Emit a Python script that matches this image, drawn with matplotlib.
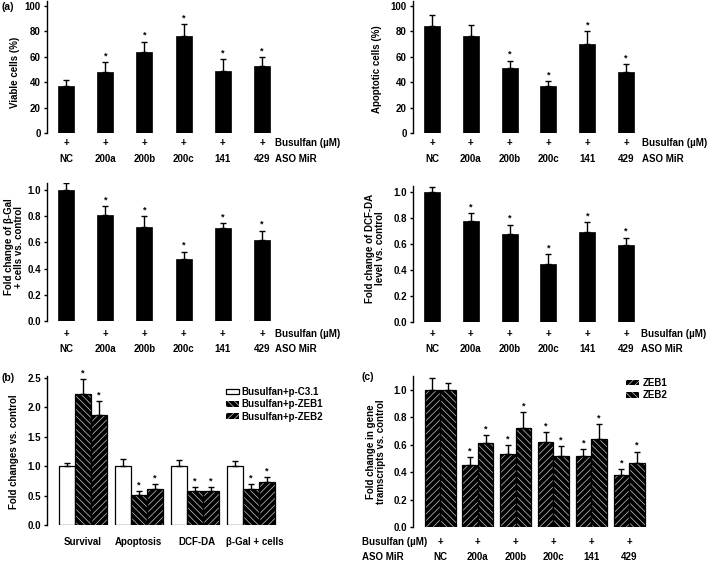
import matplotlib
matplotlib.use("Agg")
import matplotlib.pyplot as plt
import matplotlib.transforms as mtransforms
from matplotlib.patches import Patch
import numpy as np

plt.rcParams['font.family'] = ['Liberation Sans', 'DejaVu Sans']
plt.rcParams['font.weight'] = 'bold'
plt.rcParams['axes.labelweight'] = 'bold'
plt.rcParams['hatch.color'] = '#c8c8c8'
plt.rcParams['hatch.linewidth'] = 0.5

# ---------------- data ----------------
mir_labels = ["NC", "200a", "200b", "200c", "141", "429"]

viable = [37, 48, 64, 76, 49, 53]
viable_err = [5, 8, 8, 10, 9, 7]
viable_star = [0, 1, 1, 1, 1, 1]

apopt = [84, 76, 51, 37, 70, 48]
apopt_err = [9, 9, 6, 4, 10, 6]
apopt_star = [0, 0, 1, 1, 1, 1]

bgal = [1.0, 0.81, 0.72, 0.47, 0.71, 0.62]
bgal_err = [0.05, 0.07, 0.08, 0.06, 0.04, 0.07]
bgal_star = [0, 1, 1, 1, 1, 1]

dcf = [1.0, 0.78, 0.68, 0.45, 0.69, 0.59]
dcf_err = [0.04, 0.06, 0.07, 0.07, 0.08, 0.06]
dcf_star = [0, 1, 1, 1, 1, 1]

b_groups = ["Survival", "Apoptosis", "DCF-DA", "β-Gal + cells"]
b_c31 = [1.0, 1.01, 1.0, 1.0]
b_c31_err = [0.05, 0.11, 0.11, 0.09]
b_zeb1 = [2.22, 0.51, 0.58, 0.62]
b_zeb1_err = [0.26, 0.06, 0.06, 0.07]
b_zeb2 = [1.87, 0.62, 0.58, 0.73]
b_zeb2_err = [0.24, 0.08, 0.07, 0.09]

c_zeb1 = [1.0, 0.45, 0.53, 0.62, 0.52, 0.38]
c_zeb1_err = [0.09, 0.06, 0.07, 0.07, 0.05, 0.04]
c_zeb2 = [1.0, 0.61, 0.72, 0.52, 0.64, 0.47]
c_zeb2_err = [0.05, 0.06, 0.12, 0.07, 0.11, 0.08]
c_star = [0, 1, 1, 1, 1, 1]

# ---------------- layout helpers ----------------
W, H = 707, 561
fig = plt.figure(figsize=(W / 100, H / 100), dpi=100)
FS = 7
HATCH_A = '\\\\\\\\\\'
HATCH_B = '/////'


def make_ax(L, R, x_ref_px, px_per_x, y0_px, px_per_y, ymax):
    T = y0_px - ymax * px_per_y
    ax = fig.add_axes([L / W, 1 - y0_px / H, (R - L) / W, (y0_px - T) / H])
    ax.set_xlim((L - x_ref_px) / px_per_x, (R - x_ref_px) / px_per_x)
    ax.set_ylim(0, ymax)
    for s in ['top', 'right', 'bottom']:
        ax.spines[s].set_visible(False)
    ax.spines['left'].set_linewidth(1.0)
    ax.tick_params(axis='y', length=2.5, width=1.0, pad=2, labelsize=FS, direction='out')
    ax.tick_params(axis='x', bottom=False, labelbottom=False)
    return ax


def fy(ypx):
    return 1 - ypx / H


def fx(xpx):
    return xpx / W


def stars(ax, xs, tops, flags):
    for x, t, f in zip(xs, tops, flags):
        if f:
            ax.annotate('*', (x, t), xytext=(0, 1.2), textcoords='offset points',
                        ha='center', va='bottom', fontsize=6.5, fontweight='bold')


def ylabel(ax, text, right_px, center_px, L, y0_px, ax_h_px):
    ax.set_ylabel(text, fontsize=FS, fontweight='bold', linespacing=1.0)
    ax.yaxis.set_label_coords((right_px - L) / ((ax.get_position().width) * W),
                              (y0_px - center_px) / ax_h_px)


def mir_panel(L, R, x_ref_px, px_per_x, y0_px, px_per_y, ymax, vals, errs, flags,
              yticks, fmt, label, lab_right, lab_center, plus_y, name_y, bus_x):
    ax = make_ax(L, R, x_ref_px, px_per_x, y0_px, px_per_y, ymax)
    x = np.arange(len(vals))
    ax.bar(x, vals, width=16 / px_per_x, color='black', edgecolor='black', linewidth=0.5, zorder=2)
    ax.errorbar(x, vals, yerr=[np.zeros(len(vals)), errs], fmt='none', ecolor='black',
                elinewidth=1.0, capsize=2.5, capthick=1.0, zorder=3)
    stars(ax, x, np.array(vals) + np.array(errs), flags)
    ax.set_yticks(yticks)
    ax.set_yticklabels([fmt % t for t in yticks], fontweight='bold')
    ylabel(ax, label, lab_right, lab_center, L, y0_px, ymax * px_per_y)
    tr = mtransforms.blended_transform_factory(ax.transData, fig.transFigure)
    for xi, name in zip(x, mir_labels):
        ax.text(xi, fy(plus_y), '+', transform=tr, ha='center', va='center', fontsize=FS, fontweight='bold')
        ax.text(xi, fy(name_y), name, transform=tr, ha='center', va='center', fontsize=FS, fontweight='bold')
    fig.text(fx(bus_x), fy(plus_y), 'Busulfan (µM)', ha='left', va='center', fontsize=FS, fontweight='bold')
    fig.text(fx(bus_x), fy(name_y), 'ASO MiR', ha='left', va='center', fontsize=FS, fontweight='bold')
    return ax


# ---------------- panel (a) ----------------
mir_panel(47, 300, 66, 39.2, 133, 1.27, 104, viable, viable_err, viable_star,
          [0, 20, 40, 60, 80, 100], '%d', 'Viable cells (%)', 20, 72, 143, 159, 275)
mir_panel(413, 700, 432, 38.8, 133, 1.27, 104, apopt, apopt_err, apopt_star,
          [0, 20, 40, 60, 80, 100], '%d', 'Apoptotic cells (%)', 382, 69, 143, 159, 642)
mir_panel(47, 300, 66, 39.2, 321, 131, 1.05, bgal, bgal_err, bgal_star,
          [0.0, 0.2, 0.4, 0.6, 0.8, 1.0], '%.1f', 'Fold change of β-Gal\n+ cells vs. control',
          24, 247, 334, 349, 275)
mir_panel(413, 700, 432, 38.8, 322, 130, 1.05, dcf, dcf_err, dcf_star,
          [0.0, 0.2, 0.4, 0.6, 0.8, 1.0], '%.1f', 'Fold change of DCF-DA\nlevel vs. control',
          385, 248, 334, 349, 641)

# ---------------- panel (b) ----------------
pxb = 56.2
axb = make_ax(47, 340, 82.5, pxb, 525, 58.8, 2.53)
xb = np.arange(len(b_groups))
wb = 16 / pxb
series_b = [(b_c31, b_c31_err, -wb, None, 'white', [0, 0, 0, 0]),
            (b_zeb1, b_zeb1_err, 0, HATCH_A, 'black', [1, 1, 1, 1]),
            (b_zeb2, b_zeb2_err, wb, HATCH_B, 'black', [1, 1, 1, 1])]
for vals, errs, off, hatch, fc, fl in series_b:
    if hatch:
        axb.bar(xb + off, vals, width=wb, color=fc, hatch=hatch, linewidth=0, zorder=2)
    else:
        axb.bar(xb + off, vals, width=wb, color=fc, linewidth=0, zorder=2)
    axb.bar(xb + off, vals, width=wb, fill=False, edgecolor='black', linewidth=0.9, zorder=2.5)
    axb.errorbar(xb + off, vals, yerr=[np.zeros(len(vals)), errs], fmt='none', ecolor='black',
                 elinewidth=1.0, capsize=2.5, capthick=1.0, zorder=3)
    stars(axb, xb + off, np.array(vals) + np.array(errs), fl)
axb.set_yticks([0.0, 0.5, 1.0, 1.5, 2.0, 2.5])
axb.set_yticklabels(['%.1f' % t for t in [0.0, 0.5, 1.0, 1.5, 2.0, 2.5]], fontweight='bold')
ylabel(axb, 'Fold changes vs. control', 19, 452, 47, 525, 2.53 * 58.8)
trb = mtransforms.blended_transform_factory(axb.transData, fig.transFigure)
b_label_shift = [0, 0, 0.03, 0.07]
for xi, name, sh in zip(xb, b_groups, b_label_shift):
    axb.text(xi + sh, fy(542), name, transform=trb, ha='center', va='center', fontsize=FS, fontweight='bold')
hb = [Patch(facecolor='white', edgecolor='black', linewidth=0.9),
      Patch(facecolor='black', hatch=HATCH_A),
      Patch(facecolor='black', hatch=HATCH_B)]
axb.legend(hb, ['Busulfan+p-C3.1', 'Busulfan+p-ZEB1', 'Busulfan+p-ZEB2'],
           loc='upper left', bbox_to_anchor=(fx(226), fy(387)), bbox_transform=fig.transFigure,
           frameon=False, handlelength=1.3, handleheight=0.55, handletextpad=0.3,
           labelspacing=0.25, borderpad=0, borderaxespad=0,
           prop={'weight': 'bold', 'size': FS})

# ---------------- panel (c) ----------------
pxc = 37.8
axc = make_ax(413, 700, 440, pxc, 527, 137, 1.1)
xc = np.arange(len(mir_labels))
wc = 15.5 / pxc
for vals, errs, off, hatch in [(c_zeb1, c_zeb1_err, -wc / 2, HATCH_B),
                               (c_zeb2, c_zeb2_err, wc / 2, HATCH_A)]:
    axc.bar(xc + off, vals, width=wc, color='black', hatch=hatch, linewidth=0, zorder=2)
    axc.bar(xc + off, vals, width=wc, fill=False, edgecolor='black', linewidth=0.9, zorder=2.5)
    axc.errorbar(xc + off, vals, yerr=[np.zeros(len(vals)), errs], fmt='none', ecolor='black',
                 elinewidth=1.0, capsize=2.5, capthick=1.0, zorder=3)
    stars(axc, xc + off, np.array(vals) + np.array(errs), c_star)
axc.set_yticks([0.0, 0.2, 0.4, 0.6, 0.8, 1.0])
axc.set_yticklabels(['%.1f' % t for t in [0.0, 0.2, 0.4, 0.6, 0.8, 1.0]], fontweight='bold')
ylabel(axc, 'Fold change in gene\ntramscripts vs. control', 386, 452, 413, 527, 1.1 * 137)
trc = mtransforms.blended_transform_factory(axc.transData, fig.transFigure)
for xi, name in zip(xc, mir_labels):
    axc.text(xi, fy(542), '+', transform=trc, ha='center', va='center', fontsize=FS, fontweight='bold')
    axc.text(xi, fy(557), name, transform=trc, ha='center', va='center', fontsize=FS, fontweight='bold')
fig.text(fx(362), fy(542), 'Busulfan (µM)', ha='left', va='center', fontsize=FS, fontweight='bold')
fig.text(fx(362), fy(557), 'ASO MiR', ha='left', va='center', fontsize=FS, fontweight='bold')
hc = [Patch(facecolor='black', hatch=HATCH_B), Patch(facecolor='black', hatch=HATCH_A)]
axc.legend(hc, ['ZEB1', 'ZEB2'], loc='upper left', bbox_to_anchor=(fx(626), fy(378)),
           bbox_transform=fig.transFigure, frameon=False, handlelength=1.3, handleheight=0.55,
           handletextpad=0.4, labelspacing=0.25, borderpad=0, borderaxespad=0,
           prop={'weight': 'bold', 'size': FS})

# ---------------- panel letters ----------------
fig.text(fx(2), fy(7), '(a)', ha='left', va='center', fontsize=7.5, fontweight='bold')
fig.text(fx(2), fy(378), '(b)', ha='left', va='center', fontsize=7.5, fontweight='bold')
fig.text(fx(362), fy(377), '(c)', ha='left', va='center', fontsize=7.5, fontweight='bold')

fig.savefig('out.png', dpi=100)
